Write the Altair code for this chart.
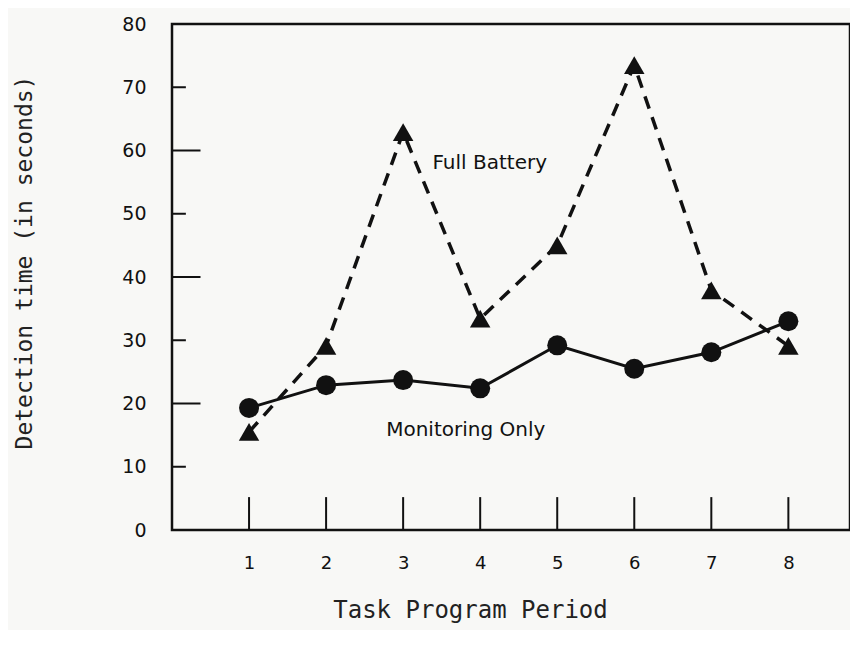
import altair as alt
import pandas as pd

# ---- data ----
periods = [1, 2, 3, 4, 5, 6, 7, 8]
full_battery = [15.5, 29.1, 62.9, 33.4, 45.0, 73.5, 37.9, 29.1]
monitoring_only = [19.3, 22.9, 23.7, 22.4, 29.2, 25.5, 28.1, 33.0]
y_tick_values = [0, 10, 20, 30, 40, 50, 60, 70, 80]
inner_y_ticks = [10, 20, 30, 40, 50, 60, 70]
series_labels = ["Full Battery", "Monitoring Only"]
label_period = [3.38, 2.78]
label_value = [58.0, 15.8]

fb = pd.DataFrame({"period": periods, "value": full_battery})
mo = pd.DataFrame({"period": periods, "value": monitoring_only})
ytk = pd.DataFrame({
    "value": inner_y_ticks,
    "period": [0] * len(inner_y_ticks),
    "period2": [0.37 if v % 20 == 0 else 0.18 for v in inner_y_ticks],
})
xtk = pd.DataFrame({"period": periods, "value": [0] * len(periods), "value2": [5.2] * len(periods)})
lab = pd.DataFrame({"period": label_period, "value": label_value, "text": series_labels})

XDOM = [0, 8.8]
X = alt.X(
    "period:Q",
    scale=alt.Scale(domain=XDOM, nice=False, zero=False),
    axis=alt.Axis(
        values=periods, format="d", ticks=False, grid=False, domain=False,
        labelFont="DejaVu Sans", labelFontSize=18, labelColor="#111",
        labelPadding=24,
        title="Task Program Period", titleFont="DejaVu Sans Mono",
        titleFontSize=24, titleFontWeight="normal", titleColor="#222",
        titleX=298, titleY=80, titleAnchor="start", titleAlign="center",
        titleBaseline="middle",
    ),
)
Y = alt.Y(
    "value:Q",
    scale=alt.Scale(domain=[0, 80], nice=False),
    axis=alt.Axis(
        values=y_tick_values, ticks=False, grid=False, domain=False,
        labelFont="DejaVu Sans", labelFontSize=19, labelColor="#111",
        labelPadding=26,
        title="Detection time (in seconds)", titleFont="DejaVu Sans Mono",
        titleFontSize=23, titleFontWeight="normal", titleColor="#222",
        titleX=-148, titleY=238, titleAngle=-90, titleAlign="center",
        titleBaseline="middle",
    ),
)
Xn = alt.X("period:Q", scale=alt.Scale(domain=XDOM, nice=False, zero=False))
Yn = alt.Y("value:Q", scale=alt.Scale(domain=[0, 80], nice=False))

fb_line = alt.Chart(fb).mark_line(color="#111", strokeWidth=3.5, strokeDash=[13, 9]).encode(x=X, y=Y)
fb_pts = alt.Chart(fb).mark_point(shape="triangle-up", filled=True, size=420, color="#111", opacity=1).encode(x=Xn, y=Yn)
mo_line = alt.Chart(mo).mark_line(color="#111", strokeWidth=3).encode(x=Xn, y=Yn)
mo_pts = alt.Chart(mo).mark_circle(size=400, color="#111", opacity=1).encode(x=Xn, y=Yn)
ytick_rules = alt.Chart(ytk).mark_rule(color="#111", strokeWidth=2).encode(x=Xn, x2="period2:Q", y=Yn)
xtick_rules = alt.Chart(xtk).mark_rule(color="#111", strokeWidth=2).encode(x=Xn, y=Yn, y2="value2:Q")
labels = alt.Chart(lab).mark_text(
    align="left", baseline="middle", font="DejaVu Sans", fontSize=20, color="#111"
).encode(x=Xn, y=Yn, text="text:N")

chart = alt.layer(
    fb_line, mo_line, ytick_rules, xtick_rules, fb_pts, mo_pts, labels
).properties(
    width=678, height=506,
    autosize=alt.AutoSizeParams(type="none"),
    padding={"left": 164, "top": 16, "right": 0, "bottom": 100},
    background="#f8f8f6",
).configure_view(stroke="#111", strokeWidth=2.5)

chart.save("out.html", embed_options={"renderer": "svg", "actions": False})
